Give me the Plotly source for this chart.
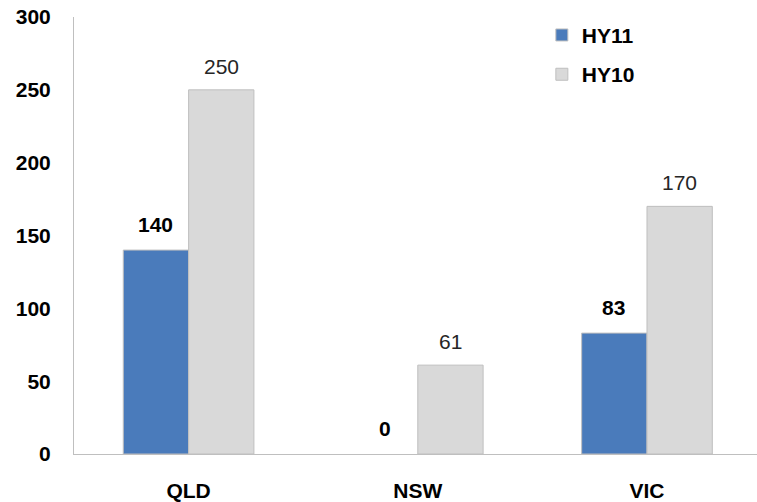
import plotly.graph_objects as go

categories = ["QLD", "NSW", "VIC"]
hy11 = [140, 0, 83]
hy10 = [250, 61, 170]
y_ticks = [0, 50, 100, 150, 200, 250, 300]

BLUE = "#4a7bbb"
GRAY = "#d9d9d9"
EDGE = "#bfbfbf"
FONT = "Liberation Sans, Arial, sans-serif"

fig = go.Figure()
fig.add_trace(go.Bar(
    name="HY11", x=categories, y=hy11,
    marker=dict(color=BLUE, line=dict(color=EDGE, width=[1 if v > 0 else 0 for v in hy11])),
    legendgroup="a",
))
fig.add_trace(go.Bar(
    name="HY10", x=categories, y=hy10,
    marker=dict(color=GRAY, line=dict(color=EDGE, width=1)),
    legendgroup="b",
))

annotations = []
for c, v in zip(categories, hy11):
    annotations.append(dict(
        x=c, y=v, xref="x", yref="y", text="<b>%d</b>" % v, showarrow=False,
        xanchor="center", yanchor="bottom", xshift=-33, yshift=12,
        font=dict(family=FONT, size=21, color="#000000"),
    ))
for c, v in zip(categories, hy10):
    annotations.append(dict(
        x=c, y=v, xref="x", yref="y", text="%d" % v, showarrow=False,
        xanchor="center", yanchor="bottom", xshift=33, yshift=10,
        font=dict(family=FONT, size=21, color="#262626"),
    ))

fig.update_layout(
    width=757, height=502,
    margin=dict(l=74, r=0, t=17, b=45),
    paper_bgcolor="white", plot_bgcolor="white",
    barmode="group", bargap=0.43, bargroupgap=0,
    showlegend=True,
    legend=dict(
        x=0.685, y=1.005, xanchor="left", yanchor="top",
        font=dict(family=FONT, size=21, color="#000000", weight="bold"),
        traceorder="grouped", tracegroupgap=9,
        bgcolor="rgba(0,0,0,0)",
    ),
    annotations=annotations,
    xaxis=dict(
        range=[-0.5, 2.48], showgrid=False, zeroline=False,
        showline=True, linecolor=EDGE, linewidth=1,
        ticks="", ticklabelstandoff=18,
        tickfont=dict(family=FONT, size=21, color="#000000", weight="bold"),
        fixedrange=True,
    ),
    yaxis=dict(
        range=[0, 300], tickvals=y_ticks, showgrid=False, zeroline=False,
        showline=True, linecolor=EDGE, linewidth=1,
        ticks="", ticklabelstandoff=18,
        tickfont=dict(family=FONT, size=21, color="#000000", weight="bold"),
        fixedrange=True,
    ),
)

fig.write_html("out.html")
